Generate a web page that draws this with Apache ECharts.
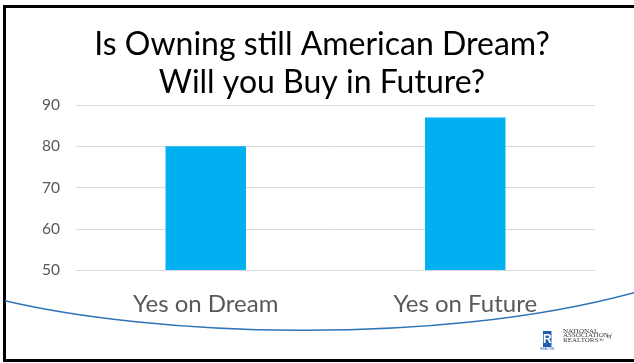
<!DOCTYPE html>
<html>
<head>
<meta charset="utf-8">
<script src="https://cdn.jsdelivr.net/npm/echarts@6/dist/echarts.min.js"></script>
<style>
  html, body { margin: 0; padding: 0; background: #ffffff; overflow: hidden; }
  #chart { width: 634px; height: 363px; }
</style>
</head>
<body>
<div id="chart"></div>
<script>
// Survey answers (percent saying yes)
const categories = ['Yes on Dream', 'Yes on Future'];
const yesValues = [80, 87];
const titleLines = ['Is Owning still American Dream?', 'Will you Buy in Future?'];
const yTicks = { min: 50, max: 90, step: 10 };

const FONT = 'Lato, "Open Sans", sans-serif';
const GRAY = '#595959';
const NAR_BLUE = '#1F5FAD';
const LOGO_FONT = '"Liberation Serif", serif';

const chart = echarts.init(document.getElementById('chart'), null, { renderer: 'canvas' });

chart.setOption({
  backgroundColor: '#ffffff',
  animation: false,
  grid: { left: 76, right: 39, top: 105, bottom: 93 },
  xAxis: {
    type: 'category',
    data: categories,
    axisLine: { show: true, lineStyle: { color: '#d9d9d9', width: 1 } },
    axisTick: { show: false },
    axisLabel: { color: GRAY, fontFamily: FONT, fontSize: 24, margin: 22 }
  },
  yAxis: {
    type: 'value',
    min: yTicks.min,
    max: yTicks.max,
    interval: yTicks.step,
    axisLine: { show: false },
    axisTick: { show: false },
    splitLine: { lineStyle: { color: '#d9d9d9', width: 1 } },
    axisLabel: { color: GRAY, fontFamily: FONT, fontSize: 15.5, margin: 16 }
  },
  series: [{
    type: 'bar',
    data: yesValues,
    barWidth: '31%',
    itemStyle: { color: '#00B0F0' },
    z: 2
  }],
  graphic: [
    // slide frame (right edge runs past the canvas)
    {
      type: 'rect', z: 100, silent: true,
      shape: { x: 4.5, y: 6.5, width: 640, height: 354 },
      style: { fill: null, stroke: '#000000', lineWidth: 3 }
    },
    // heading, two lines
    {
      type: 'text', z: 100, x: 322, y: 45,
      style: { text: titleLines[0], font: '32px ' + FONT, fill: '#000000', align: 'center', verticalAlign: 'middle' }
    },
    {
      type: 'text', z: 100, x: 322, y: 83,
      style: { text: titleLines[1], font: '32px ' + FONT, fill: '#000000', align: 'center', verticalAlign: 'middle' }
    },
    // decorative sweep across the lower part of the slide
    {
      type: 'bezierCurve', z: 100, silent: true,
      shape: { x1: 5, y1: 300.7, cpx1: 150, cpy1: 335, cpx2: 430, cpy2: 348, x2: 634, y2: 292.7 },
      style: { stroke: '#2E75B6', lineWidth: 1.5, fill: null }
    },
    // association logo
    {
      type: 'group', z: 100, silent: true,
      children: [
        { type: 'rect', shape: { x: 543, y: 331, width: 8.5, height: 16 }, style: { fill: NAR_BLUE } },
        { type: 'text', x: 547.3, y: 339.5, style: { text: 'R', font: 'bold 12px "Liberation Sans", sans-serif', fill: '#ffffff', align: 'center', verticalAlign: 'middle' } },
        { type: 'text', x: 547.3, y: 349, style: { text: 'REALTOR', font: '3px "Liberation Sans", sans-serif', fill: NAR_BLUE, align: 'center', verticalAlign: 'middle' } },
        { type: 'text', x: 563, y: 331, style: { text: 'NATIONAL', font: '7px ' + LOGO_FONT, fill: '#3a3a3a', verticalAlign: 'middle' } },
        { type: 'text', x: 563, y: 335.5, style: { text: 'ASSOCIATION', font: '7px ' + LOGO_FONT, fill: '#3a3a3a', verticalAlign: 'middle' } },
        { type: 'text', x: 606.5, y: 336, style: { text: 'of', font: 'italic 6.5px ' + LOGO_FONT, fill: '#3a3a3a', verticalAlign: 'middle' } },
        { type: 'text', x: 563, y: 340, style: { text: 'REALTORS\u00AE', font: '7px ' + LOGO_FONT, fill: '#3a3a3a', verticalAlign: 'middle' } }
      ]
    }
  ]
});
</script>
</body>
</html>
